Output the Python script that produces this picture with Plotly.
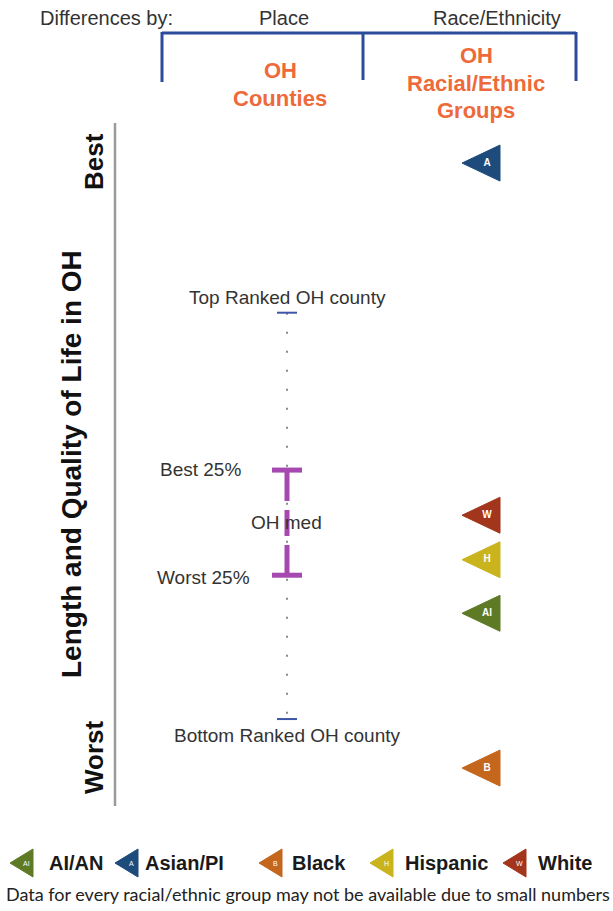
import plotly.graph_objects as go

# ---------------- data ----------------
groups = ["AI/AN", "Asian/PI", "Black", "Hispanic", "White"]
group_abbr = ["AI", "A", "B", "H", "W"]
group_colors = ["#5e7a25", "#1d4b7c", "#c4661c", "#c9b41e", "#a3351c"]
group_scores = [27.4, 97.2, 3.4, 35.7, 42.6]   # position on the Best(100)..Worst(0) scale

county_top = 74.0
county_best25 = 49.6
county_median = 41.4
county_worst25 = 33.3
county_bottom = 11.0

# ---------------- layout constants ----------------
W, H = 613, 911
PX_PER_UNIT = 6.45      # pixels per score unit
Y_ZERO_PX = 790         # pixel row of score 0
X_COUNTY = 287
X_GROUP = 481
FONT = "Liberation Sans, Arial, sans-serif"


def du(px):
    return px / PX_PER_UNIT


def pY(y):
    return 1 - y / H


fig = go.Figure()

# dotted county range line
fig.add_trace(go.Scatter(
    x=[X_COUNTY, X_COUNTY], y=[county_top, county_bottom], mode="lines",
    line=dict(color="#8a8a8a", width=2, dash="2px,17px"), hoverinfo="skip", showlegend=False))

# top / bottom county ticks
fig.add_trace(go.Scatter(
    x=[X_COUNTY - 10, X_COUNTY + 10, None, X_COUNTY - 10, X_COUNTY + 10],
    y=[county_top, county_top, None, county_bottom, county_bottom], mode="lines",
    line=dict(color="#3d56a6", width=2), hoverinfo="skip", showlegend=False))

# interquartile bar with median segment
gap = du(9)
half_med = du(13)
purple = "#a548b0"
fig.add_trace(go.Scatter(
    x=[X_COUNTY - 15, X_COUNTY + 15, None,
       X_COUNTY, X_COUNTY, None,
       X_COUNTY, X_COUNTY, None,
       X_COUNTY, X_COUNTY, None,
       X_COUNTY - 15, X_COUNTY + 15],
    y=[county_best25, county_best25, None,
       county_best25, county_median + half_med + gap, None,
       county_median + half_med, county_median - half_med, None,
       county_median - half_med - gap, county_worst25, None,
       county_worst25, county_worst25],
    mode="lines", line=dict(color=purple, width=5), hoverinfo="skip", showlegend=False))

# group triangles
hw, hh = 19, du(18)
for name, ab, col, v in zip(groups, group_abbr, group_colors, group_scores):
    fig.add_trace(go.Scatter(
        x=[X_GROUP - hw, X_GROUP + hw, X_GROUP + hw, X_GROUP - hw],
        y=[v, v + hh, v - hh, v], mode="lines", fill="toself",
        fillcolor=col, line=dict(color=col, width=1), name=name,
        hoverinfo="name", showlegend=False))
    fig.add_trace(go.Scatter(
        x=[X_GROUP + 6], y=[v], mode="text", text=[ab],
        textfont=dict(color="white", size=10, family=FONT, weight="bold"),
        hoverinfo="skip", showlegend=False))

shapes = []
blue = "#2b4b9b"
# bracket
shapes.append(dict(type="line", xref="x", yref="paper", x0=162, x1=576, y0=pY(33), y1=pY(33),
                   line=dict(color=blue, width=3)))
for xx, yb in [(162, 82), (363, 80), (576, 81)]:
    shapes.append(dict(type="line", xref="x", yref="paper", x0=xx, x1=xx, y0=pY(32), y1=pY(yb),
                       line=dict(color=blue, width=3)))
# gray axis line
shapes.append(dict(type="line", xref="x", yref="paper", x0=115, x1=115, y0=pY(123), y1=pY(806),
                   line=dict(color="#9a9a9a", width=2.5)))

annotations = []
dark = "#333333"
orange = "#ee6a3a"


def ann(text, x, y, size=16, color=dark, bold=False, angle=0, xanchor="center", yref="paper", yshift=0,
        family=FONT):
    annotations.append(dict(x=x, y=y, xref="x", yref=yref, text=("<b>%s</b>" % text) if bold else text,
                            showarrow=False, textangle=angle, xanchor=xanchor, yanchor="middle",
                            yshift=yshift, font=dict(size=size, color=color, family=family)))


# legend
leg_x = [22, 127, 271, 382, 515]
leg_tx = [47, 143, 290, 403, 536]
leg_y = 863
for name, ab, col, lx, tx in zip(groups, group_abbr, group_colors, leg_x, leg_tx):
    path = "M{},{} L{},{} L{},{} Z".format(lx - 12, pY(leg_y), lx + 11, pY(leg_y - 14),
                                           lx + 11, pY(leg_y + 14))
    shapes.append(dict(type="path", xref="x", yref="paper", path=path,
                       fillcolor=col, line=dict(color=col, width=1)))
    ann(ab, lx + 4, pY(leg_y), size=7, color="white")
    ann(name, tx, pY(leg_y), size=20, color="#1a1a1a", bold=True, xanchor="left")

ann("Differences by:", 106, pY(18), size=20)
ann("Place", 284, pY(18), size=20)
ann("Race/Ethnicity", 497, pY(18), size=20)
ann("OH", 280, pY(71), size=22, color=orange, bold=True)
ann("Counties", 280, pY(98), size=22, color=orange, bold=True)
ann("OH", 476, pY(55), size=22, color=orange, bold=True)
ann("Racial/Ethnic", 476, pY(83), size=22, color=orange, bold=True)
ann("Groups", 476, pY(110), size=22, color=orange, bold=True)
ann("Length and Quality of Life in OH", 71, pY(464), size=28, color="#111", bold=True, angle=-90)
ann("Best", 94, pY(162), size=26, color="#111", bold=True, angle=-90)
ann("Worst", 94, pY(757), size=26, color="#111", bold=True, angle=-90)

# county labels tied to the data values
ann("Top Ranked OH county", X_COUNTY, county_top, size=19, yref="y", yshift=15)
ann("Best 25%", 200, county_best25, size=19, yref="y", yshift=1)
ann("OH med", X_COUNTY - 1, county_median, size=19, yref="y")
ann("Worst 25%", 203, county_worst25, size=19, yref="y", yshift=-2)
ann("Bottom Ranked OH county", X_COUNTY, county_bottom, size=19, yref="y", yshift=-16)

ann("Data for every racial/ethnic group may not be available due to small numbers", 308, pY(894),
    size=18, color="#222", family="Lato, sans-serif")

fig.update_layout(
    width=W, height=H, margin=dict(l=0, r=0, t=0, b=0),
    paper_bgcolor="white", plot_bgcolor="white",
    xaxis=dict(range=[0, W], visible=False, fixedrange=True),
    yaxis=dict(range=[(Y_ZERO_PX - H) / PX_PER_UNIT, Y_ZERO_PX / PX_PER_UNIT], visible=False,
               fixedrange=True),
    shapes=shapes, annotations=annotations, showlegend=False,
)

fig.write_html("out.html", config={"displayModeBar": False},
               post_script="document.body.style.margin='0';document.body.style.overflow='hidden';")
